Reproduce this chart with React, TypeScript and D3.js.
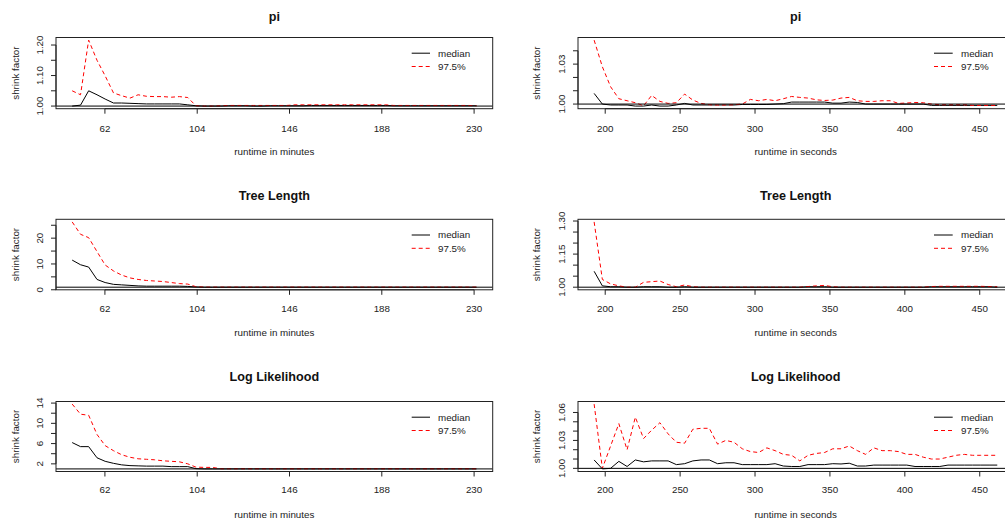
import React, { useEffect, useRef } from "react";
import * as d3 from "d3";

// iteration bins (runtime) for each column
const MINUTES = [47.1, 50.9, 54.6, 58.4, 62.1, 65.9, 69.6, 73.4, 77.1, 80.9, 84.6, 88.4, 92.2, 95.9, 99.7, 103.4, 107.2, 110.9, 114.7, 118.4, 122.2, 126.0, 129.7, 133.5, 137.2, 141.0, 144.7, 148.5, 152.2, 156.0, 159.7, 163.5, 167.3, 171.0, 174.8, 178.5, 182.3, 186.0, 189.8, 193.5, 197.3, 201.1, 204.8, 208.6, 212.3, 216.1, 219.8, 223.6, 227.3, 231.1];
const SECONDS = [192.6, 198.1, 203.6, 209.1, 214.6, 220.1, 225.6, 231.0, 236.5, 242.0, 247.5, 253.0, 258.5, 264.0, 269.5, 275.0, 280.5, 286.0, 291.5, 296.9, 302.4, 307.9, 313.4, 318.9, 324.4, 329.9, 335.4, 340.9, 346.4, 351.9, 357.4, 362.9, 368.3, 373.8, 379.3, 384.8, 390.3, 395.8, 401.3, 406.8, 412.3, 417.8, 423.3, 428.8, 434.2, 439.7, 445.2, 450.7, 456.2, 461.7];

// shrink factors, minutes column
const PI_MIN_MED = [1.000, 1.003, 1.050, 1.037, 1.023, 1.010, 1.010, 1.009, 1.008, 1.007, 1.007, 1.007, 1.007, 1.007, 1.004, 1.001, 1.000, 1.000, 1.000, 1.001, 1.001, 1.001, 1.000, 1.000, 1.001, 1.001, 1.001, 1.001, 1.001, 1.002, 1.002, 1.002, 1.002, 1.002, 1.002, 1.002, 1.002, 1.002, 1.002, 1.001, 1.001, 1.001, 1.001, 1.001, 1.001, 1.001, 1.001, 1.001, 1.001, 1.001];
const PI_MIN_UP = [1.050, 1.037, 1.216, 1.150, 1.099, 1.043, 1.034, 1.026, 1.037, 1.032, 1.031, 1.031, 1.029, 1.031, 1.028, 1.001, 1.000, 1.000, 1.001, 1.002, 1.002, 1.002, 1.002, 1.002, 1.002, 1.002, 1.002, 1.004, 1.004, 1.004, 1.004, 1.004, 1.004, 1.004, 1.004, 1.004, 1.004, 1.004, 1.004, 1.002, 1.002, 1.002, 1.002, 1.002, 1.002, 1.002, 1.002, 1.002, 1.002, 1.001];
const TL_MIN_MED = [11.5, 9.7, 8.8, 4.0, 2.8, 2.1, 1.9, 1.7, 1.5, 1.4, 1.4, 1.4, 1.4, 1.4, 1.3, 1.1, 1.0, 1.0, 1.0, 1.0, 1.0, 1.0, 1.0, 1.0, 1.0, 1.0, 1.0, 1.0, 1.0, 1.0, 1.0, 1.0, 1.0, 1.0, 1.0, 1.0, 1.0, 1.0, 1.0, 1.0, 1.0, 1.0, 1.0, 1.0, 1.0, 1.0, 1.0, 1.0, 1.0, 1.0];
const TL_MIN_UP = [26.3, 21.5, 20.2, 14.8, 9.6, 7.3, 5.7, 4.6, 4.0, 3.6, 3.4, 3.2, 2.8, 2.4, 2.2, 1.2, 1.05, 1.02, 1.02, 1.02, 1.02, 1.02, 1.02, 1.02, 1.02, 1.02, 1.02, 1.02, 1.02, 1.02, 1.02, 1.02, 1.02, 1.02, 1.02, 1.02, 1.02, 1.02, 1.02, 1.02, 1.02, 1.02, 1.02, 1.02, 1.02, 1.02, 1.02, 1.02, 1.02, 1.02];
const LL_MIN_MED = [6.2, 5.4, 5.4, 3.2, 2.5, 2.1, 1.8, 1.65, 1.6, 1.55, 1.55, 1.55, 1.45, 1.45, 1.45, 1.05, 1.0, 1.0, 1.0, 1.0, 1.0, 1.0, 1.0, 1.0, 1.0, 1.0, 1.0, 1.0, 1.0, 1.0, 1.0, 1.0, 1.0, 1.0, 1.0, 1.0, 1.0, 1.0, 1.0, 1.0, 1.0, 1.0, 1.0, 1.0, 1.0, 1.0, 1.0, 1.0, 1.0, 1.0];
const LL_MIN_UP = [13.8, 11.8, 11.6, 7.8, 5.6, 4.6, 3.8, 3.3, 3.0, 2.9, 2.8, 2.6, 2.5, 2.4, 2.0, 1.35, 1.3, 1.3, 1.03, 1.03, 1.03, 1.03, 1.03, 1.03, 1.03, 1.03, 1.03, 1.03, 1.03, 1.03, 1.03, 1.03, 1.03, 1.03, 1.03, 1.03, 1.03, 1.03, 1.03, 1.03, 1.03, 1.03, 1.03, 1.03, 1.03, 1.03, 1.03, 1.03, 1.03, 1.03];

// shrink factors, seconds column
const PI_SEC_MED = [1.008, 1.000, 0.9993, 0.9993, 0.9993, 0.9985, 0.9985, 0.9993, 0.9985, 0.9985, 0.9993, 1.0005, 0.9993, 0.9993, 0.9993, 0.9993, 0.9993, 0.9993, 0.9997, 0.9997, 0.9997, 0.9997, 1.000, 1.0003, 1.0015, 1.0015, 1.0015, 1.0015, 1.0015, 1.0007, 1.0007, 1.0015, 1.0012, 1.000, 1.000, 1.000, 1.000, 1.000, 1.000, 1.000, 1.000, 0.999, 0.999, 0.999, 0.999, 0.999, 0.999, 0.999, 0.999, 0.999];
const PI_SEC_UP = [1.048, 1.028, 1.013, 1.004, 1.0025, 1.001, 0.9987, 1.0065, 1.002, 1.0005, 1.001, 1.0075, 1.003, 1.0005, 0.9995, 0.9993, 0.9993, 0.9995, 1.000, 1.0035, 1.0025, 1.0035, 1.0025, 1.004, 1.0057, 1.005, 1.0045, 1.0032, 1.0027, 1.003, 1.0045, 1.005, 1.0025, 1.002, 1.002, 1.0025, 1.0025, 1.0005, 1.0008, 1.0012, 1.001, 1.000, 0.9995, 0.9995, 0.9995, 0.9995, 0.999, 0.999, 0.999, 0.999];
const TL_SEC_MED = [1.072, 1.006, 1.002, 1.002, 1.000, 1.000, 1.002, 1.002, 1.002, 1.000, 1.000, 1.002, 1.000, 1.000, 1.000, 1.000, 1.000, 1.000, 1.000, 1.000, 1.000, 1.000, 1.000, 1.000, 1.000, 1.000, 1.002, 1.002, 1.002, 1.000, 1.000, 1.000, 1.000, 1.000, 1.000, 1.000, 1.000, 1.000, 1.000, 1.000, 1.000, 1.002, 1.002, 1.002, 1.002, 1.002, 1.002, 1.002, 1.002, 1.000];
const TL_SEC_UP = [1.296, 1.035, 1.015, 1.006, 1.000, 1.000, 1.022, 1.025, 1.028, 1.012, 1.002, 1.010, 1.002, 1.000, 1.000, 1.000, 1.000, 1.000, 1.000, 1.000, 1.000, 1.000, 1.000, 1.000, 1.000, 1.000, 1.003, 1.006, 1.008, 1.002, 1.000, 1.000, 1.000, 1.000, 1.000, 1.000, 1.000, 1.000, 1.000, 1.000, 1.000, 1.003, 1.004, 1.004, 1.004, 1.004, 1.004, 1.004, 1.003, 1.002];
const LL_SEC_MED = [1.009, 0.9994, 1.000, 1.0075, 1.002, 1.009, 1.007, 1.008, 1.008, 1.008, 1.004, 1.005, 1.008, 1.009, 1.009, 1.005, 1.006, 1.006, 1.004, 1.004, 1.004, 1.004, 1.005, 1.0025, 1.002, 1.002, 1.004, 1.004, 1.004, 1.005, 1.0047, 1.0055, 1.0025, 1.0025, 1.0035, 1.0035, 1.0035, 1.0035, 1.0035, 1.002, 1.002, 1.002, 1.002, 1.0035, 1.0035, 1.0035, 1.0035, 1.0035, 1.0035, 1.0035];
const LL_SEC_UP = [1.069, 1.000, 1.024, 1.048, 1.020, 1.055, 1.032, 1.041, 1.049, 1.037, 1.028, 1.027, 1.042, 1.043, 1.043, 1.026, 1.030, 1.028, 1.021, 1.018, 1.017, 1.022, 1.019, 1.015, 1.014, 1.008, 1.014, 1.016, 1.017, 1.021, 1.021, 1.024, 1.019, 1.015, 1.022, 1.019, 1.019, 1.018, 1.015, 1.015, 1.012, 1.010, 1.010, 1.012, 1.014, 1.015, 1.014, 1.014, 1.014, 1.014];

const TITLES = ["pi", "Tree Length", "Log Likelihood"];
const X_LABELS = ["runtime in minutes", "runtime in seconds"];
const X_TICKS = [[62, 104, 146, 188, 230], [200, 250, 300, 350, 400, 450]];
const LEGEND = ["median", "97.5%"];

// y ticks per panel [row][col], and which of them carry a label
const Y_TICKS = [
  [[1.0, 1.05, 1.1, 1.15, 1.2], [1.0, 1.01, 1.02, 1.03, 1.04]],
  [[0, 5, 10, 15, 20, 25], [1.0, 1.05, 1.1, 1.15, 1.2, 1.25, 1.3]],
  [[2, 4, 6, 8, 10, 12, 14], [1.0, 1.01, 1.02, 1.03, 1.04, 1.05, 1.06]]
];
const Y_LABELED = [
  [[1.0, 1.1, 1.2], [1.0, 1.03]],
  [[0, 10, 20], [1.0, 1.15, 1.3]],
  [[2, 6, 10, 14], [1.0, 1.03, 1.06]]
];
const Y_FORMAT = [[".2f", ".2f"], ["d", ".2f"], ["d", ".2f"]];

const WIDTH = 1005;
const HEIGHT = 522;
const FONT = "'Liberation Sans', Arial, sans-serif";

const BOX_TOP = [37.5, 219.3, 401.5];
const BOX_BOTTOM = [108.7, 289.8, 471.5];
const TITLE_Y = [17, 196, 377];
const TICKLAB_Y = [128.3, 308.3, 490];
const XLAB_Y = [151.7, 332.7, 514.3];
const BOX_LEFT = [56, 578];
const BOX_RIGHT = [492.7, 1013.4];
const YTICKLAB_X = [40, 562];
const YLAB_X = [16, 537];
const LEG_LINE_X = [[411.7, 430], [934, 952.7]];
const LEG_TEXT_X = [438, 961];

function padded(lo, hi) {
  const d = (hi - lo) * 0.04;
  return [lo - d, hi + d];
}

export default function App() {
  const ref = useRef(null);

  useEffect(() => {
    const svg = d3.select(ref.current);
    svg.selectAll("*").remove();

    const xs = [MINUTES, SECONDS];
    const series = [
      [[PI_MIN_MED, PI_MIN_UP], [PI_SEC_MED, PI_SEC_UP]],
      [[TL_MIN_MED, TL_MIN_UP], [TL_SEC_MED, TL_SEC_UP]],
      [[LL_MIN_MED, LL_MIN_UP], [LL_SEC_MED, LL_SEC_UP]]
    ];

    for (let r = 0; r < 3; r++) {
      for (let c = 0; c < 2; c++) {
        const xv = xs[c];
        const [med, up] = series[r][c];
        const all = med.concat(up);

        const x = d3.scaleLinear()
          .domain(padded(d3.min(xv), d3.max(xv)))
          .range([BOX_LEFT[c], BOX_RIGHT[c]]);
        const y = d3.scaleLinear()
          .domain(padded(d3.min(all), d3.max(all)))
          .range([BOX_BOTTOM[r], BOX_TOP[r]]);

        const g = svg.append("g");
        const clipId = `clip-${r}-${c}`;
        g.append("clipPath").attr("id", clipId)
          .append("rect")
          .attr("x", BOX_LEFT[c]).attr("y", BOX_TOP[r])
          .attr("width", BOX_RIGHT[c] - BOX_LEFT[c])
          .attr("height", BOX_BOTTOM[r] - BOX_TOP[r]);

        const line = d3.line()
          .x((d) => x(d[0]))
          .y((d) => y(d[1]));

        const plot = g.append("g").attr("clip-path", `url(#${clipId})`);
        plot.append("path")
          .datum(xv.map((v, i) => [v, med[i]]))
          .attr("d", line)
          .attr("fill", "none")
          .attr("stroke", "#000")
          .attr("stroke-width", 1);
        plot.append("path")
          .datum(xv.map((v, i) => [v, up[i]]))
          .attr("d", line)
          .attr("fill", "none")
          .attr("stroke", "#ff0000")
          .attr("stroke-width", 1)
          .attr("stroke-dasharray", "4,3");
        plot.append("line")
          .attr("x1", BOX_LEFT[c]).attr("x2", BOX_RIGHT[c])
          .attr("y1", y(1)).attr("y2", y(1))
          .attr("stroke", "#000").attr("stroke-width", 1);

        // box
        g.append("rect")
          .attr("x", BOX_LEFT[c]).attr("y", BOX_TOP[r])
          .attr("width", BOX_RIGHT[c] - BOX_LEFT[c])
          .attr("height", BOX_BOTTOM[r] - BOX_TOP[r])
          .attr("fill", "none")
          .attr("stroke", "#222")
          .attr("stroke-width", 1);

        // x axis
        const xt = X_TICKS[c];
        g.append("line")
          .attr("x1", x(xt[0])).attr("x2", x(xt[xt.length - 1]))
          .attr("y1", BOX_BOTTOM[r]).attr("y2", BOX_BOTTOM[r])
          .attr("stroke", "#222");
        g.selectAll(".xt").data(xt).enter().append("line")
          .attr("x1", (d) => x(d)).attr("x2", (d) => x(d))
          .attr("y1", BOX_BOTTOM[r]).attr("y2", BOX_BOTTOM[r] + 5)
          .attr("stroke", "#222");
        g.selectAll(".xl").data(xt).enter().append("text")
          .attr("x", (d) => x(d)).attr("y", TICKLAB_Y[r])
          .attr("dy", "0.35em")
          .attr("text-anchor", "middle")
          .style("font-family", FONT).style("font-size", "9.8px")
          .attr("fill", "#222")
          .text((d) => d);
        g.append("text")
          .attr("x", (BOX_LEFT[c] + BOX_RIGHT[c]) / 2).attr("y", XLAB_Y[r])
          .attr("dy", "0.35em")
          .attr("text-anchor", "middle")
          .style("font-family", FONT).style("font-size", "9.8px")
          .attr("fill", "#222")
          .text(X_LABELS[c]);

        // y axis
        const yt = Y_TICKS[r][c];
        const fmt = d3.format(Y_FORMAT[r][c]);
        g.append("line")
          .attr("x1", BOX_LEFT[c]).attr("x2", BOX_LEFT[c])
          .attr("y1", y(yt[0])).attr("y2", y(yt[yt.length - 1]))
          .attr("stroke", "#222");
        g.selectAll(".yt").data(yt).enter().append("line")
          .attr("x1", BOX_LEFT[c] - 5).attr("x2", BOX_LEFT[c])
          .attr("y1", (d) => y(d)).attr("y2", (d) => y(d))
          .attr("stroke", "#222");
        g.selectAll(".yl").data(Y_LABELED[r][c]).enter().append("text")
          .attr("transform", (d) => `translate(${YTICKLAB_X[c]},${y(d)}) rotate(-90)`)
          .attr("dy", "0.35em")
          .attr("text-anchor", "middle")
          .style("font-family", FONT).style("font-size", "9.8px")
          .attr("fill", "#222")
          .text((d) => fmt(d));
        g.append("text")
          .attr("transform", `translate(${YLAB_X[c]},${(BOX_TOP[r] + BOX_BOTTOM[r]) / 2}) rotate(-90)`)
          .attr("dy", "0.35em")
          .attr("text-anchor", "middle")
          .style("font-family", FONT).style("font-size", "9.8px")
          .attr("fill", "#222")
          .text("shrink factor");

        // title
        g.append("text")
          .attr("x", (BOX_LEFT[c] + BOX_RIGHT[c]) / 2).attr("y", TITLE_Y[r])
          .attr("dy", "0.35em")
          .attr("text-anchor", "middle")
          .style("font-family", FONT).style("font-size", "12.6px")
          .style("font-weight", "bold")
          .attr("fill", "#111")
          .text(TITLES[r]);

        // legend
        const ly = [BOX_TOP[r] + 15.7, BOX_TOP[r] + 29];
        LEGEND.forEach((lab, k) => {
          g.append("line")
            .attr("x1", LEG_LINE_X[c][0]).attr("x2", LEG_LINE_X[c][1])
            .attr("y1", ly[k]).attr("y2", ly[k])
            .attr("stroke", k === 0 ? "#000" : "#ff0000")
            .attr("stroke-dasharray", k === 0 ? null : "4,3");
          g.append("text")
            .attr("x", LEG_TEXT_X[c]).attr("y", ly[k])
            .attr("dy", "0.35em")
            .style("font-family", FONT).style("font-size", "9.8px")
            .attr("fill", "#222")
            .text(lab);
        });
      }
    }
  }, []);

  return (
    <svg
      ref={ref}
      width={WIDTH}
      height={HEIGHT}
      style={{ position: "absolute", left: 0, top: 0, background: "#fff" }}
    ></svg>
  );
}
